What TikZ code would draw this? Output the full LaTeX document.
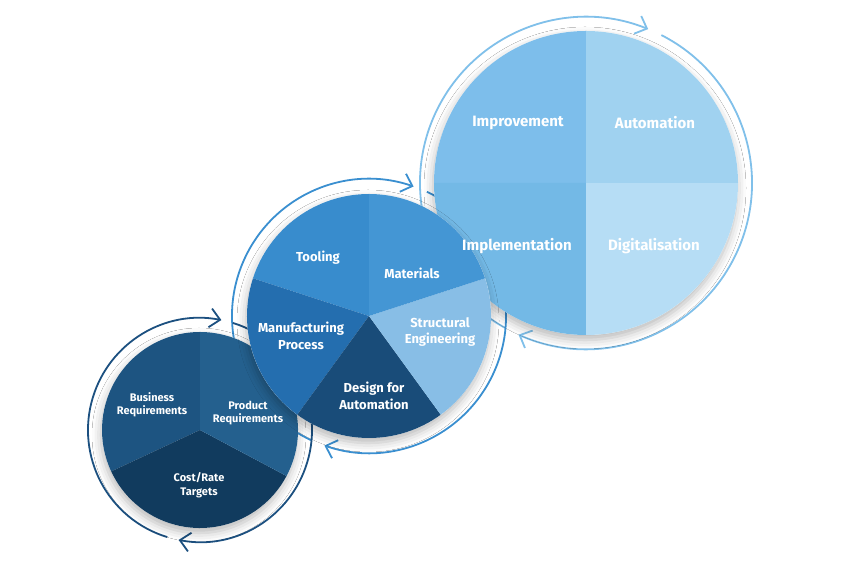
\documentclass[tikz,border=0pt]{standalone}
\usepackage{fontspec}
\setmainfont{Fira Sans}
\usetikzlibrary{arrows.meta,shadows.blur}
\definecolor{cBus}{RGB}{29,84,129}
\definecolor{cProd}{RGB}{36,96,142}
\definecolor{cCost}{RGB}{17,59,94}
\definecolor{cTool}{RGB}{56,140,205}
\definecolor{cMat}{RGB}{68,150,212}
\definecolor{cManu}{RGB}{36,110,175}
\definecolor{cDesign}{RGB}{25,76,121}
\definecolor{cStruct}{RGB}{136,190,230}
\definecolor{cImpr}{RGB}{125,190,235}
\definecolor{cAuto}{RGB}{160,210,240}
\definecolor{cImpl}{RGB}{115,185,230}
\definecolor{cDigi}{RGB}{182,221,245}
\definecolor{ringS}{RGB}{28,80,128}
\definecolor{ringM}{RGB}{58,143,208}
\definecolor{ringL}{RGB}{128,192,234}
\begin{document}
\begin{tikzpicture}[x=1pt,y=1pt,
  ring/.style={line width=1.8pt,-{Straight Barb[length=10pt,width=19pt,line width=1.8pt]}},
  disc/.style={fill=white,blur shadow={shadow xshift=-1pt,shadow yshift=-5pt,shadow blur radius=9pt,shadow opacity=28}},
  lblL/.style={text=white,font=\fontsize{15}{18}\selectfont\bfseries,align=center},
  lblM/.style={text=white,font=\fontsize{13}{16.5}\selectfont\bfseries,align=center},
  lblS/.style={text=white,font=\fontsize{11}{13.5}\selectfont\bfseries,align=center}]
\useasboundingbox[fill=white] (0,0) rectangle (846,564);
\coordinate (S) at (200,134);
\coordinate (M) at (369,248);
\coordinate (L) at (586,381);
% rings
\draw[ring,ringL] (L) ++(63:166) arc[start angle=63,end angle=-114,radius=166];
\draw[ring,ringL] (L) ++(241:166) arc[start angle=241,end angle=68,radius=166];
\draw[ring,ringM] (M) ++(65:137) arc[start angle=65,end angle=-109,radius=137];
\draw[ring,ringM] (M) ++(245:137) arc[start angle=245,end angle=71,radius=137];
\draw[ring,ringS] (S) ++(73:112) arc[start angle=73,end angle=-101,radius=112];
\draw[ring,ringS] (S) ++(253:112) arc[start angle=253,end angle=79,radius=112];
% small circle
\path[disc] (S) circle[radius=98];
\fill[cBus] (S) -- ++(90:98) arc[start angle=90,end angle=205,radius=98] -- cycle;
\fill[cCost] (S) -- ++(205:98) arc[start angle=205,end angle=332,radius=98] -- cycle;
\fill[cProd] (S) -- ++(332:98) arc[start angle=332,end angle=450,radius=98] -- cycle;
% large circle
\path[disc] (L) circle[radius=152];
\fill[cImpr] (L) -- ++(90:152) arc[start angle=90,end angle=180,radius=152] -- cycle;
\fill[cImpl] (L) -- ++(180:152) arc[start angle=180,end angle=270,radius=152] -- cycle;
\fill[cDigi] (L) -- ++(270:152) arc[start angle=270,end angle=360,radius=152] -- cycle;
\fill[cAuto] (L) -- ++(0:152) arc[start angle=0,end angle=90,radius=152] -- cycle;
% medium circle
\path[disc] (M) circle[radius=122];
\fill[cTool] (M) -- ++(90:122) arc[start angle=90,end angle=162,radius=122] -- cycle;
\fill[cManu] (M) -- ++(162:122) arc[start angle=162,end angle=234,radius=122] -- cycle;
\fill[cDesign] (M) -- ++(234:122) arc[start angle=234,end angle=306,radius=122] -- cycle;
\fill[cStruct] (M) -- ++(306:122) arc[start angle=306,end angle=378,radius=122] -- cycle;
\fill[cMat] (M) -- ++(18:122) arc[start angle=18,end angle=90,radius=122] -- cycle;
% labels
\node[lblL] (impr) at (518,441) {Improvement};
\node[lblL] (auto) at (655,441) {Automation};
\node[lblL] (impl) at (517,318) {Implementation};
\node[lblL] (digi) at (654,318) {Digitalisation};
\node[lblM] (tool) at (318,306) {Tooling};
\node[lblM] (mat) at (412,291) {Materials};
\node[lblM] (manu) at (301,228) {Manufacturing\\Process};
\node[lblM] (struct) at (440,232) {Structural\\Engineering};
\node[lblM] (design) at (374,168) {Design for\\Automation};
\node[lblS] (bus) at (152,159) {Business\\Requirements};
\node[lblS] (prod) at (248,151) {Product\\Requirements};
\node[lblS] (cost) at (199,79) {Cost/Rate\\Targets};
\end{tikzpicture}
\end{document}
